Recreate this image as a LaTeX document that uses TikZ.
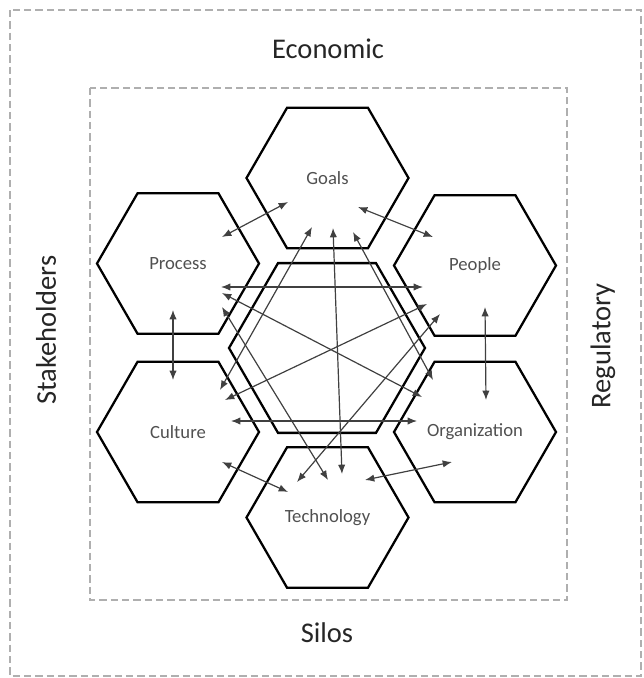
\documentclass[tikz,border=0pt]{standalone}
\usepackage{fontspec}
\setmainfont{Carlito}
\usetikzlibrary{shapes.geometric,arrows.meta}
\definecolor{boxgray}{RGB}{175,175,175}
\definecolor{labelgray}{RGB}{80,80,80}
\tikzset{
    hexa/.style={
        draw,
        regular polygon,
        regular polygon sides=6,
        minimum size=121.5pt,
        inner sep=0pt,
        line width=1.7pt,
        text=labelgray,
        font=\fontsize{14}{16}\selectfont
    },
    frame/.style={draw=boxgray, line width=1.6pt, dash pattern=on 5.5pt off 3pt},
    link/.style={black!75, line width=0.9pt,
        {Latex[length=7pt,width=5.5pt]}-{Latex[length=7pt,width=5.5pt]}},
    side/.style={font=\fontsize{21.4}{24}\selectfont, text=black!85}
}

\begin{document}
\begin{tikzpicture}[x=0.75pt,y=-0.75pt]
  \useasboundingbox (0,0) rectangle (643,678);

  % dashed frames and their labels
  \draw[frame] (10,10) rectangle (641,676);
  \draw[frame] (90,88) rectangle (567,600);
  \node[side] at (328,49) (econ) {Economic};
  \node[side] at (327,633) (silos) {Silos};
  \node[side, rotate=90] at (46,330) (stake) {Stakeholders};
  \node[side, rotate=90] at (603,346) (regul) {Regulatory};

  % hexagons
  \node[hexa, minimum size=147pt] at (327,348) (core) {};
  \node[hexa] at (327.5,178) (goals) {Goals};
  \node[hexa] at (178,263.5) (process) {Process};
  \node[hexa] at (475,265.5) (people) {People};
  \node[hexa] at (178,432) (culture) {Culture};
  \node[hexa] at (475,432) (org) {Organization};
  \node[hexa] at (327.5,517.5) (tech) {Technology};

  % arrow ends inside the hexagons
  \coordinate (gp) at (288,202);  \coordinate (pg) at (222,237);
  \coordinate (ge) at (358,207);  \coordinate (eg) at (433,237);
  \coordinate (pc) at (173,310);  \coordinate (cp) at (173,380);
  \coordinate (eo) at (485,307);  \coordinate (oe) at (486,400);
  \coordinate (ct) at (222,462);  \coordinate (tc) at (288,492);
  \coordinate (ot) at (452,462);  \coordinate (to) at (365,480);
  \coordinate (pe) at (221,287);  \coordinate (ep) at (423,287);
  \coordinate (co) at (231,421);  \coordinate (oc) at (417,421);
  \coordinate (gt) at (333,228);  \coordinate (tg) at (342,474);
  \coordinate (gc) at (312,227);  \coordinate (cg) at (220,390);
  \coordinate (go) at (353,232);  \coordinate (og) at (433,380);
  \coordinate (po) at (222,293);  \coordinate (op) at (422,397);
  \coordinate (pt) at (222,307);  \coordinate (tp) at (328,480);
  \coordinate (ce) at (225,400);  \coordinate (ec) at (427,304);
  \coordinate (et) at (440,314);  \coordinate (te) at (297,482);

  % neighbours
  \draw[link] (gp) -- (pg);
  \draw[link] (ge) -- (eg);
  \draw[link] (pc) -- (cp);
  \draw[link] (eo) -- (oe);
  \draw[link] (ct) -- (tc);
  \draw[link] (ot) -- (to);
  % across the core
  \draw[link] (pe) -- (ep);
  \draw[link] (co) -- (oc);
  \draw[link] (gt) -- (tg);
  \draw[link] (gc) -- (cg);
  \draw[link] (go) -- (og);
  \draw[link] (po) -- (op);
  \draw[link] (pt) -- (tp);
  \draw[link] (ce) -- (ec);
  \draw[link] (et) -- (te);

\end{tikzpicture}
\end{document}
